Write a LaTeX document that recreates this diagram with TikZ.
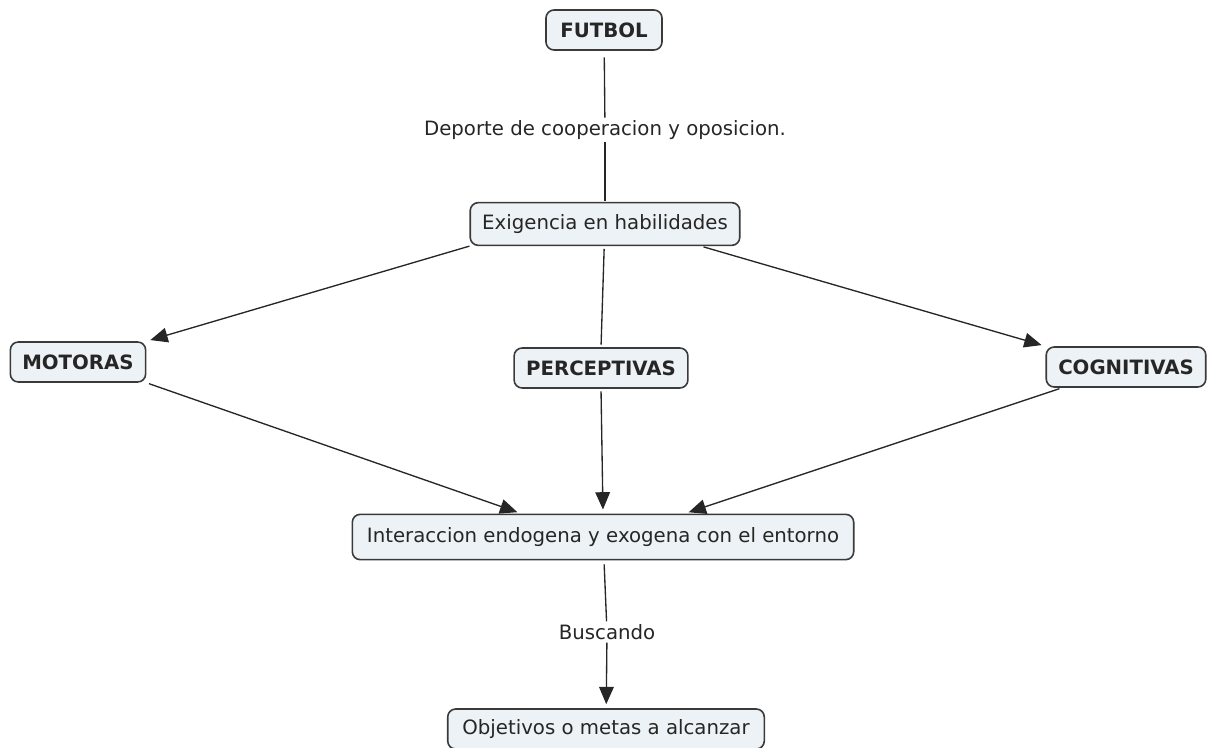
\documentclass[tikz,border=0pt]{standalone}
\usepackage{fontspec}
\setmainfont{DejaVu Sans}
\usetikzlibrary{arrows.meta}
\definecolor{cajafondo}{HTML}{ECF2F5}
\definecolor{cajaborde}{HTML}{3A3A3A}
\begin{document}
\begin{tikzpicture}[x=0.75pt, y=-0.75pt, >={Triangle[length=13pt,width=11pt]},
  concepto/.style={draw=cajaborde, fill=cajafondo, line width=1.2pt, rounded corners=6pt,
    inner xsep=9pt, minimum height=30pt, font=\fontsize{14.8}{17}\selectfont, text=black!85},
  frase/.style={inner sep=2pt, font=\fontsize{14.8}{17}\selectfont, text=black!85},
  enlace/.style={line width=1pt, black!85}]
\useasboundingbox (0,0) rectangle (1216,748);

% conceptos
\node [concepto, minimum width=87pt, font=\fontsize{14.8}{17}\selectfont\bfseries] (futbol) at (604,30) {FUTBOL};
\node [concepto, minimum height=32pt] (exig) at (605,224) {Exigencia en habilidades};
\node [concepto, font=\fontsize{14.8}{17}\selectfont\bfseries] (mot) at (78,362) {MOTORAS};
\node [concepto, font=\fontsize{14.8}{17}\selectfont\bfseries] (perc) at (601,368) {PERCEPTIVAS};
\node [concepto, font=\fontsize{14.8}{17}\selectfont\bfseries] (cog) at (1126,367) {COGNITIVAS};
\node [concepto, minimum height=34pt, inner xsep=11pt] (inter) at (603,537) {Interaccion endogena y exogena con el entorno};
\node [concepto, inner xsep=11pt] (obj) at (606,729) {Objetivos o metas a alcanzar};

% frases de enlace
\node [frase] (dep) at (605,130) {Deporte de cooperacion y oposicion.};
\node [frase] (busc) at (607,632) {Buscando};

% enlaces
\draw [enlace, shorten <=5pt] (futbol) -- (dep);
\draw [enlace, shorten >=1pt] (dep) -- (exig);
\draw [enlace, ->, shorten >=3pt] (exig.south west) -- (mot.north east);
\draw [enlace, shorten <=2pt, shorten >=2pt] (exig.268) -- (perc.north);
\draw [enlace, ->, shorten <=2pt, shorten >=3pt] (exig.-13) -- (cog.north west);
\draw [enlace, ->, shorten <=2pt, shorten >=3pt] (mot.south east) -- (inter.164);
\draw [enlace, ->, shorten <=2pt, shorten >=3pt] (perc.south) -- (inter.north);
\draw [enlace, ->, shorten <=2pt, shorten >=3pt] (cog.198) -- (inter.16);
\draw [enlace, shorten <=3pt] (inter) -- (busc);
\draw [enlace, ->, shorten >=3pt] (busc) -- (obj);
\end{tikzpicture}
\end{document}
